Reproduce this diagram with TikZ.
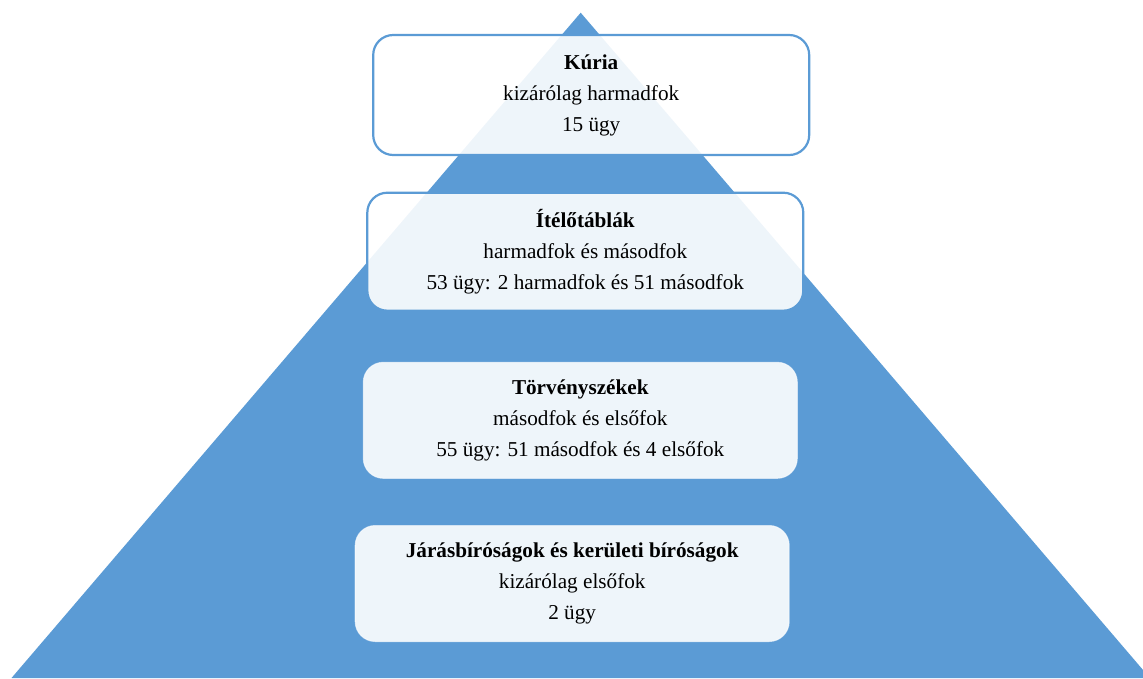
\documentclass[tikz,border=0pt]{standalone}
\usepackage{fontspec}
\setmainfont{Liberation Serif}
\definecolor{pyrblue}{HTML}{5B9BD5}
\tikzset{
  courtbox/.style={fill=white, fill opacity=0.9, text opacity=1,
    rounded corners=20pt, align=center, inner sep=0pt,
    minimum width=436pt, minimum height=118pt,
    font=\fontsize{21.2}{31}\selectfont},
  topbox/.style={courtbox, draw=pyrblue, line width=2.2pt},
  lowbox/.style={courtbox, draw=white, draw opacity=0.6, line width=1pt},
}
\begin{document}
\begin{tikzpicture}[x=1pt, y=-1pt]
        \useasboundingbox (0,0) rectangle (1143,678);
        % Pyramid
        \coordinate (apex) at (580.7,12.7);
        \coordinate (baseL) at (11.5,678);
        \coordinate (baseR) at (1149.9,678);
        \begin{scope}
        \clip (0,0) rectangle (1143,678);
        \fill[pyrblue] (apex) -- (baseL) -- (baseR) -- cycle;
        \end{scope}

        % Levels
        \node at (591.2,95) [topbox, minimum height=120pt] (kuria)
        {\textbf{Kúria}\\kizárólag harmadfok\\15 ügy};
        \node at (585.3,251.7) [topbox] (itelotabla)
        {\textbf{Ítélőtáblák}\\harmadfok és másodfok\\53 ügy: 2 harmadfok és 51 másodfok};
        \node at (580.3,420.3) [lowbox, minimum width=434pt, minimum height=116pt] (torvenyszek)
        {\textbf{Törvényszékek}\\másodfok és elsőfok\\55 ügy: 51 másodfok és 4 elsőfok};
        \node at (572.2,583.5) [lowbox, minimum width=434pt, minimum height=116pt] (jarasbirosag)
        {\textbf{Járásbíróságok és kerületi bíróságok}\\kizárólag elsőfok\\2 ügy};

    \end{tikzpicture}
\end{document}
